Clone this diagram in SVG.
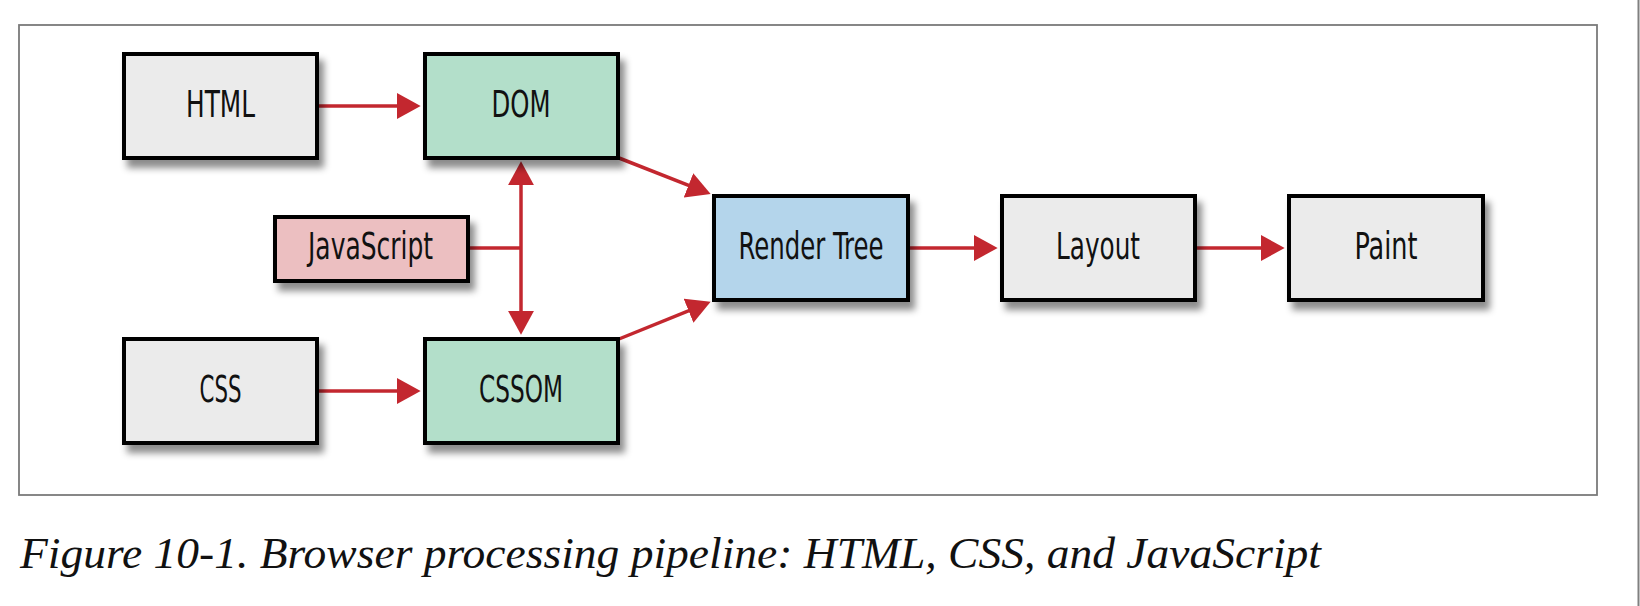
<svg xmlns="http://www.w3.org/2000/svg" width="1640" height="606" viewBox="0 0 1640 606">
  <style>
    .box { stroke: #000; stroke-width: 4; filter: url(#shadow); }
    .gray { fill: #ebebeb; }
    .green { fill: #b3dfca; }
    .pink { fill: #ecbfc1; }
    .blue { fill: #b4d5eb; }
    .label { font-family: "Liberation Sans Narrow", "DejaVu Sans Condensed", "Liberation Sans", sans-serif; font-size: 37px; fill: #111; text-anchor: middle; }
    .conn { stroke: #c3272f; stroke-width: 3.5; fill: none; }
    .arrow { marker-end: url(#head); }
    .caption { font-family: "Liberation Serif", "DejaVu Serif", serif; font-style: italic; font-size: 44px; fill: #111; }
  </style>
  <defs>
    <filter id="shadow" x="-10%" y="-10%" width="130%" height="140%">
      <feDropShadow dx="5" dy="8" stdDeviation="3.5" flood-color="#000" flood-opacity="0.45"/>
    </filter>
    <marker id="head" markerUnits="userSpaceOnUse" markerWidth="24" markerHeight="26" viewBox="0 0 22 24" refX="14" refY="12" orient="auto-start-reverse">
      <path d="M0,0 L22,12 L0,24 z" fill="#c3272f"/>
    </marker>
  </defs>

  <rect width="1640" height="606" fill="#fff"/>
  <rect id="frame" x="19" y="25" width="1578" height="470" fill="none" stroke="#7a7a7a" stroke-width="1.8"/>
  <line x1="1638.5" y1="0" x2="1638.5" y2="606" stroke="#808080" stroke-width="2"/>

  <g id="connectors">
    <line class="conn arrow" x1="319" y1="106" x2="412" y2="106"/>
    <line class="conn arrow" x1="319" y1="391" x2="412" y2="391"/>
    <line class="conn arrow" x1="910" y1="248" x2="989" y2="248"/>
    <line class="conn arrow" x1="1197" y1="248" x2="1276" y2="248"/>
    <line class="conn arrow" x1="619" y1="158" x2="702.6" y2="190.9"/>
    <line class="conn arrow" x1="619" y1="339" x2="702.6" y2="305.1"/>
    <line class="conn" x1="470" y1="248" x2="521" y2="248"/>
    <line class="conn" x1="521" y1="170" x2="521" y2="326" marker-start="url(#head)" marker-end="url(#head)"/>
  </g>

  <g id="html">
    <rect class="box gray" x="124" y="54" width="193" height="104"/>
    <text class="label" x="220.5" y="117" textLength="69" lengthAdjust="spacingAndGlyphs">HTML</text>
  </g>
  <g id="dom">
    <rect class="box green" x="425" y="54" width="193" height="104"/>
    <text class="label" x="521" y="117" textLength="59" lengthAdjust="spacingAndGlyphs">DOM</text>
  </g>
  <g id="javascript">
    <rect class="box pink" x="275" y="217" width="193" height="64"/>
    <text class="label" x="370.5" y="259" textLength="125" lengthAdjust="spacingAndGlyphs">JavaScript</text>
  </g>
  <g id="css">
    <rect class="box gray" x="124" y="339" width="193" height="104"/>
    <text class="label" x="220.5" y="402" textLength="42" lengthAdjust="spacingAndGlyphs">CSS</text>
  </g>
  <g id="cssom">
    <rect class="box green" x="425" y="339" width="193" height="104"/>
    <text class="label" x="521" y="402" textLength="84" lengthAdjust="spacingAndGlyphs">CSSOM</text>
  </g>
  <g id="render-tree">
    <rect class="box blue" x="714" y="196" width="194" height="104"/>
    <text class="label" x="811" y="259" textLength="145" lengthAdjust="spacingAndGlyphs">Render Tree</text>
  </g>
  <g id="layout">
    <rect class="box gray" x="1002" y="196" width="193" height="104"/>
    <text class="label" x="1098" y="259" textLength="84" lengthAdjust="spacingAndGlyphs">Layout</text>
  </g>
  <g id="paint">
    <rect class="box gray" x="1289" y="196" width="194" height="104"/>
    <text class="label" x="1386" y="259" textLength="63" lengthAdjust="spacingAndGlyphs">Paint</text>
  </g>

  <text class="caption" x="20" y="568" textLength="1301" lengthAdjust="spacingAndGlyphs">Figure 10-1. Browser processing pipeline: HTML, CSS, and JavaScript</text>
</svg>
